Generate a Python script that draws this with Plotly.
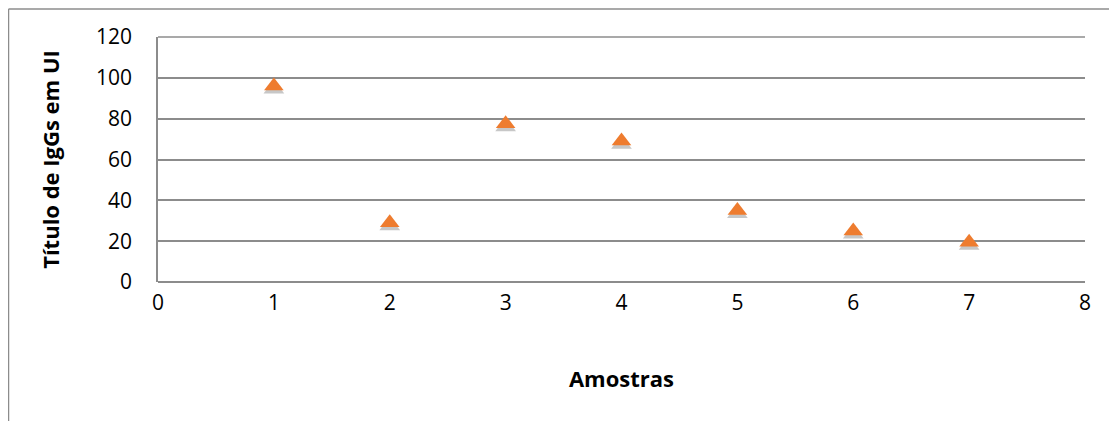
import plotly.graph_objects as go

amostras = [1, 2, 3, 4, 5, 6, 7]
titulo_igg = [96, 29, 77.5, 69, 35, 25, 19.5]
x_ticks = [0, 1, 2, 3, 4, 5, 6, 7, 8]
y_ticks = [0, 20, 40, 60, 80, 100, 120]

# page has an 8px body margin, so the figure is slightly smaller than the window
W, H = 1109, 413
ml, mr, mt, mb = 150, 32, 29, 139
pw, ph = W - ml - mr, H - mt - mb
grid = "#8c8c8c"

# shadow: same data on the base axis whose range is shifted by ~3px
shift = 3 * 120 / ph

fig = go.Figure()
fig.add_trace(go.Scatter(
    x=amostras, y=titulo_igg, mode="markers", yaxis="y",
    marker=dict(symbol="triangle-up", size=18, color="rgba(0,0,0,0.22)",
                line=dict(width=0)),
    showlegend=False, hoverinfo="skip",
))
fig.add_trace(go.Scatter(
    x=amostras, y=titulo_igg, mode="markers", yaxis="y2",
    marker=dict(symbol="triangle-up", size=17, color="#EE7C2F",
                line=dict(width=0)),
    showlegend=False,
))

font = "'Open Sans', sans-serif"
fig.update_layout(
    width=W, height=H,
    margin=dict(l=ml, r=mr, t=mt, b=mb),
    paper_bgcolor="white", plot_bgcolor="white",
    font=dict(family=font, size=21, color="black"),
    xaxis=dict(range=[0, 8], tickvals=x_ticks, showgrid=False, zeroline=False,
               showline=False, ticks="", ticklabelstandoff=6,
               title=dict(text="<b>Amostras</b>", font=dict(size=22), standoff=56)),
    yaxis=dict(range=[shift, 120 + shift], visible=False, showgrid=False, zeroline=False),
    yaxis2=dict(range=[0, 120], overlaying="y", side="left",
                tickvals=y_ticks, showgrid=True, gridcolor=grid,
                gridwidth=1.5, zeroline=True, zerolinecolor=grid, zerolinewidth=1.5,
                showline=True, linecolor=grid,
                linewidth=1.5, ticks="", ticklabelstandoff=20,
                title=dict(text="<b>Título de IgGs em UI</b>", font=dict(size=22), standoff=30)),
    shapes=[
        dict(type="line", xref="paper", yref="paper", x0=0, x1=1, y0=1, y1=1,
             line=dict(color=grid, width=1.5)),
        dict(type="line", xref="paper", yref="paper",
             x0=(0.5 - ml) / pw, x1=(W - ml) / pw,
             y0=(H - mb - 1) / ph, y1=(H - mb - 1) / ph,
             line=dict(color=grid, width=1.5)),
        dict(type="line", xref="paper", yref="paper",
             x0=(0.5 - ml) / pw, x1=(0.5 - ml) / pw,
             y0=(H - mb - 1) / ph, y1=-mb / ph,
             line=dict(color=grid, width=1.5)),
    ],
)

fig.write_html("out.html")
